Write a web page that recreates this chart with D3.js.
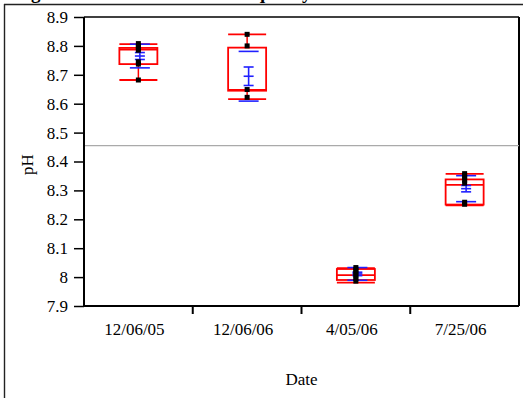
<!DOCTYPE html>
<html><head><meta charset="utf-8">
<script src="https://cdn.jsdelivr.net/npm/d3@7"></script>
<style>html,body{margin:0;padding:0;background:#fff;}svg{display:block;}</style>
</head><body>
<script>
// ---- data ----
const categories = ["12/06/05", "12/06/06", "4/05/06", "7/25/06"];
const yTicks = [7.9, 8.0, 8.1, 8.2, 8.3, 8.4, 8.5, 8.6, 8.7, 8.8, 8.9];
const whiskerLow  = [8.682, 8.616, 7.981, 8.248];
const q1          = [8.737, 8.645, 7.990, 8.251];
const median      = [8.787, 8.648, 8.007, 8.319];
const q3          = [8.793, 8.794, 8.028, 8.338];
const whiskerHigh = [8.806, 8.840, 8.031, 8.357];
const means       = [8.765, 8.695, 8.011, 8.306];
const stdErr      = [0.012, 0.032, 0.006, 0.011];
const stdDev      = [0.041, 0.086, 0.022, 0.045];
const points = [
  [8.808, 8.800, 8.792, 8.785, 8.745, 8.737, 8.682],
  [8.840, 8.800, 8.649, 8.622],
  [8.033, 8.027, 8.020, 8.012, 8.004, 7.995, 7.986],
  [8.358, 8.352, 8.344, 8.335, 8.325, 8.259, 8.252]
];
const refLine = 8.455;
const titleText = "Figure 5. Trend in lake water quality";
const xTitle = "Date";
const yTitle = "pH";

// ---- layout ----
const W = 523, H = 398;
const L = 84, R = 519, T = 17, B = 306;
const serif = "'Liberation Serif','Times New Roman',serif";

const svg = d3.select("body").append("svg").attr("width", W).attr("height", H);

// cut-off title and document frame
svg.append("text").attr("x", 14).attr("y", -1.5)
  .attr("font-family", serif).attr("font-weight", "bold").attr("font-size", 19)
  .text(titleText);
svg.append("line").attr("x1", 4).attr("x2", W).attr("y1", 4.5).attr("y2", 4.5)
  .attr("stroke", "#222").attr("stroke-width", 1.4);
svg.append("line").attr("x1", 4.5).attr("x2", 4.5).attr("y1", 4).attr("y2", H)
  .attr("stroke", "#222").attr("stroke-width", 1.4);

const y = d3.scaleLinear().domain([7.9, 8.9]).range([B, T]);
const x = d3.scaleBand().domain(categories).range([L, R]);
const boxW = 38, sdW = 20, seW = 10, blueOff = 1.5, ptS = 5;

// plot frame: top and right
svg.append("line").attr("x1", L).attr("x2", R).attr("y1", T).attr("y2", T)
  .attr("stroke", "#000").attr("stroke-width", 1.3);
svg.append("line").attr("x1", R).attr("x2", R).attr("y1", T).attr("y2", B)
  .attr("stroke", "#000").attr("stroke-width", 2);

// reference line
svg.append("line").attr("x1", L).attr("x2", R).attr("y1", y(refLine)).attr("y2", y(refLine))
  .attr("stroke", "#aaa").attr("stroke-width", 1.3);

// y axis
const ya = svg.append("g").attr("transform", `translate(${L},0)`)
  .call(d3.axisLeft(y).tickValues(yTicks).tickSize(10).tickPadding(6)
    .tickFormat(d => String(+d.toFixed(1))));
ya.select(".domain").attr("stroke-width", 2).attr("d", `M0,${T}V${B}`);
ya.selectAll(".tick line").attr("stroke-width", 1.5);
ya.selectAll("text").attr("font-family", serif).attr("font-size", 17).attr("fill", "#000");

// x axis
const xa = svg.append("g").attr("transform", `translate(0,${B})`)
  .call(d3.axisBottom(x).tickSize(0).tickPadding(0));
xa.select(".domain").attr("stroke-width", 2).attr("d", `M${L},0H${R}`);
xa.selectAll("text").attr("font-family", serif).attr("font-size", 17).attr("fill", "#000")
  .attr("y", 29).attr("dy", 0).attr("dx", -4);
xa.selectAll(".sep").data(categories.slice(1)).enter().append("line")
  .attr("x1", d => x(d)).attr("x2", d => x(d)).attr("y1", 0).attr("y2", 8)
  .attr("stroke", "#000").attr("stroke-width", 2);

// axis titles
svg.append("text").attr("x", (L + R) / 2).attr("y", 385).attr("text-anchor", "middle")
  .attr("font-family", serif).attr("font-size", 17).text(xTitle);
svg.append("text").attr("transform", `translate(33,${(T + B) / 2 + 3}) rotate(-90)`)
  .attr("text-anchor", "middle").attr("font-family", serif).attr("font-size", 17).text(yTitle);

// boxes
const g = svg.append("g");
categories.forEach((c, i) => {
  const cx = x(c) + x.bandwidth() / 2;
  const red = "#ff0000", blue = "#2020ff";
  // whiskers
  g.append("line").attr("x1", cx).attr("x2", cx).attr("y1", y(q3[i])).attr("y2", y(whiskerHigh[i]))
    .attr("stroke", red).attr("stroke-width", 1.5);
  g.append("line").attr("x1", cx).attr("x2", cx).attr("y1", y(q1[i])).attr("y2", y(whiskerLow[i]))
    .attr("stroke", red).attr("stroke-width", 1.5);
  [whiskerHigh[i], whiskerLow[i]].forEach(v => {
    g.append("line").attr("x1", cx - boxW / 2).attr("x2", cx + boxW / 2).attr("y1", y(v)).attr("y2", y(v))
      .attr("stroke", red).attr("stroke-width", 1.8);
  });
  g.append("rect").attr("x", cx - boxW / 2).attr("width", boxW)
    .attr("y", y(q3[i])).attr("height", y(q1[i]) - y(q3[i]))
    .attr("fill", "none").attr("stroke", red).attr("stroke-width", 1.8);
  g.append("line").attr("x1", cx - boxW / 2).attr("x2", cx + boxW / 2)
    .attr("y1", y(median[i])).attr("y2", y(median[i])).attr("stroke", red).attr("stroke-width", 1.8);
  // blue mean +- SD (lines), mean +- SE (error bar)
  const bx = cx + blueOff;
  [means[i] + stdDev[i], means[i] - stdDev[i]].forEach(v => {
    g.append("line").attr("x1", bx - sdW / 2).attr("x2", bx + sdW / 2).attr("y1", y(v)).attr("y2", y(v))
      .attr("stroke", blue).attr("stroke-width", 1.6);
  });
  g.append("line").attr("x1", bx).attr("x2", bx)
    .attr("y1", y(means[i] + stdErr[i])).attr("y2", y(means[i] - stdErr[i]))
    .attr("stroke", blue).attr("stroke-width", 1.6);
  [means[i] + stdErr[i], means[i], means[i] - stdErr[i]].forEach(v => {
    g.append("line").attr("x1", bx - seW / 2).attr("x2", bx + seW / 2).attr("y1", y(v)).attr("y2", y(v))
      .attr("stroke", blue).attr("stroke-width", 1.6);
  });
  // data points
  g.selectAll(null).data(points[i]).enter().append("rect")
    .attr("x", cx - ptS / 2).attr("y", d => y(d) - ptS / 2)
    .attr("width", ptS).attr("height", ptS).attr("fill", "#000");
});
</script>
</body></html>
